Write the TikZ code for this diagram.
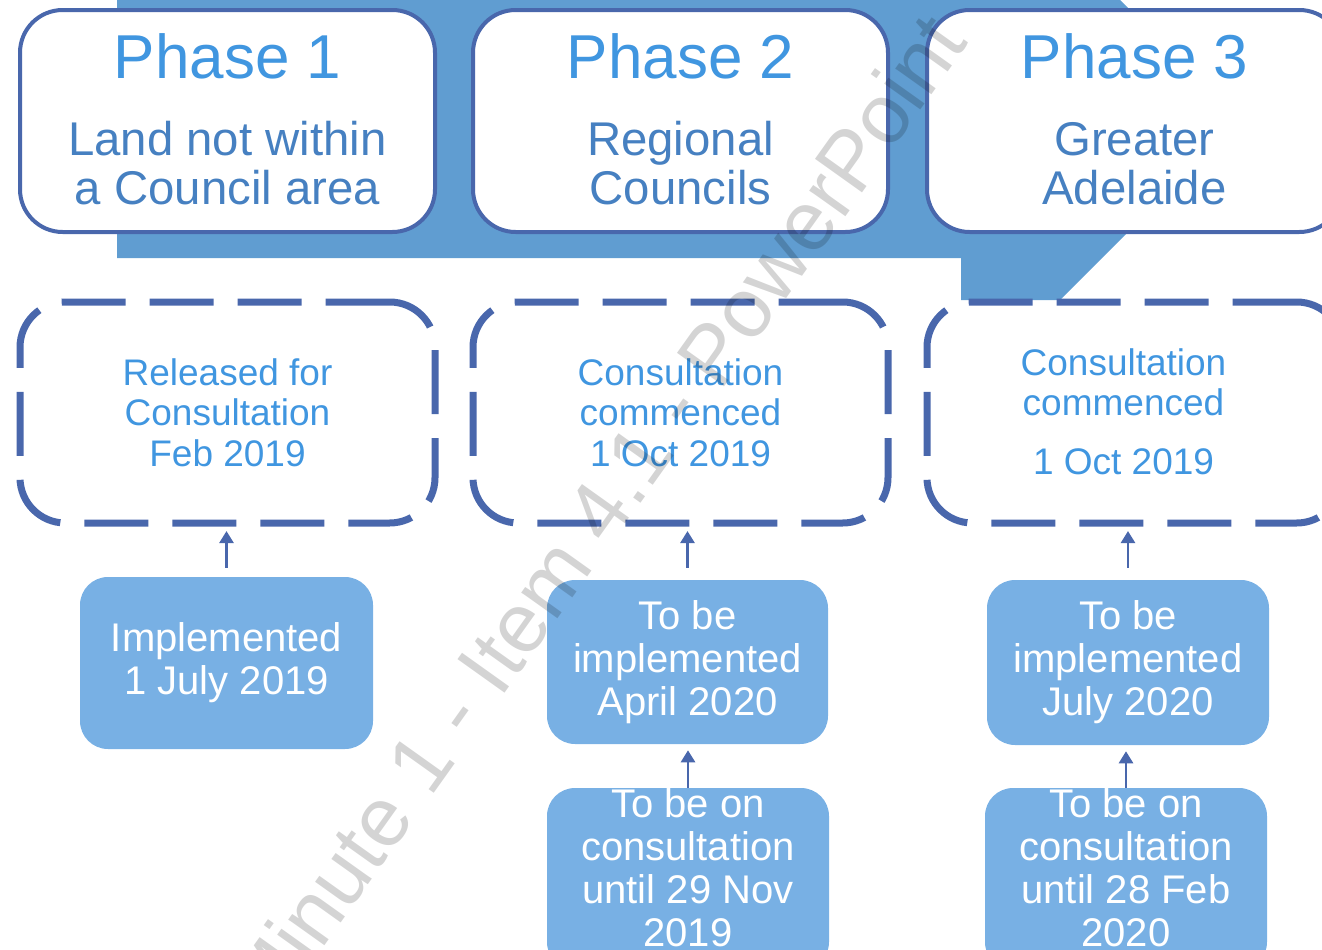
\documentclass[tikz,border=0pt]{standalone}
\usepackage{fontspec}
\setmainfont{Liberation Sans}
\usepackage{xcolor}
\usetikzlibrary{arrows.meta,calc,positioning}

\definecolor{bandblue}{RGB}{96,157,209}
\definecolor{edgeblue}{RGB}{73,103,172}
\definecolor{titleblue}{RGB}{64,150,224}
\definecolor{subblue}{RGB}{70,128,193}
\definecolor{fillblue}{RGB}{120,176,228}

\begin{document}
\begin{tikzpicture}[x=0.75pt,y=0.75pt,yscale=-1,
  phasebox/.style={draw=edgeblue, line width=3pt, fill=white, rounded corners=32pt,
    minimum width=311.25pt, minimum height=166.5pt, inner sep=0pt},
  phasetitle/.style={text=titleblue, font=\fontsize{46.5}{50}\selectfont, inner sep=0pt, anchor=base},
  phasesub/.style={text=subblue, font=\fontsize{35.5}{36.75}\selectfont, align=center, inner sep=0pt},
  statusbox/.style={draw=edgeblue, line width=5.25pt, dash pattern=on 48pt off 18pt,
    rounded corners=34pt, minimum width=311.25pt, minimum height=165.75pt, inner sep=0pt,
    text=titleblue, font=\fontsize{27.75}{30.4}\selectfont, align=center},
  statustext/.style={text=titleblue, font=\fontsize{27.75}{30.4}\selectfont, align=center, inner sep=0pt},
  datebox/.style={fill=fillblue, rounded corners=21pt, inner sep=0pt,
    text=white, font=\fontsize{30}{32.25}\selectfont, align=center},
  boxtext/.style={text=white, font=\fontsize{30}{32.25}\selectfont, align=center, inner sep=0pt},
  conn/.style={draw=edgeblue, line width=2pt, -{Triangle[width=10.5pt,length=9pt]}},
  watermark/.style={text=black, text opacity=0.17, font=\fontsize{63}{63}\selectfont, inner sep=0pt}]
\useasboundingbox (0,0) rectangle (1322,950);
\clip (0,0) rectangle (1322,950);

%Shape: background band
\fill[bandblue] (117,-5) -- (1115,-5) -- (1240,120) -- (1060,300) -- (961,300) -- (961,258) -- (117,258) -- cycle;

% Phase boxes
\node[phasebox] (p1) at (227.5,121) {};
\node[phasebox] (p2) at (680.5,121) {};
\node[phasebox] (p3) at (1134.5,121) {};
\node[phasetitle] (p1title) at ($(p1.center)+(0,-43)$) {Phase 1};
\node[phasetitle] (p2title) at ($(p2.center)+(0,-43)$) {Phase 2};
\node[phasetitle] (p3title) at ($(p3.center)+(0,-43)$) {Phase 3};
\node[phasesub] (p1sub) at ($(p1.center)+(0,42.5)$) {Land not within\\a Council area};
\node[phasesub] (p2sub) at ($(p2.center)+(0,42.5)$) {Regional\\Councils};
\node[phasesub] (p3sub) at ($(p3.center)+(0,42.5)$) {Greater\\Adelaide};

% Status boxes
\node[statusbox] (s1) at (227.5,412.5) {Released for\\Consultation\\Feb 2019};
\node[statusbox] (s2) at (680.5,412.5) {Consultation\\commenced\\1 Oct 2019};
\node[statusbox] (s3) at (1134.5,412.5) {};
\node[statustext] (s3text) at ($(s3.center)+(-11,-1)$) {Consultation\\commenced\\[13.5pt]1 Oct 2019};

% Date boxes
\node[datebox, minimum width=219.75pt, minimum height=129pt] (impl1) at (226.5,663) {Implemented\\1 July 2019};
\node[datebox, minimum width=210.75pt, minimum height=123pt] (impl2) at (687.5,662) {To be\\implemented\\April 2020};
\node[datebox, minimum width=211.5pt, minimum height=123.75pt] (impl3) at (1128,662.5) {To be\\implemented\\July 2020};
\node[datebox, minimum width=211.5pt, minimum height=136.5pt] (cons2) at (688,879) {};
\node[datebox, minimum width=211.5pt, minimum height=136.5pt] (cons3) at (1126,879) {};
\node[boxtext] (cons2text) at ($(cons2.center)+(0,-11)$) {To be on\\consultation\\until 29 Nov\\2019};
\node[boxtext] (cons3text) at ($(cons3.center)+(0,-11)$) {To be on\\consultation\\until 28 Feb\\2020};

% Connectors
\draw[conn, shorten <=6.75pt, shorten >=3.4pt] (impl1.north) -- (impl1.north |- s1.south);
\draw[conn, shorten <=9pt, shorten >=3.4pt] (impl2.north) -- (impl2.north |- s2.south);
\draw[conn, shorten <=9pt, shorten >=3.4pt] (impl3.north) -- (impl3.north |- s3.south);
\draw[conn, shorten >=4.5pt] (cons2.north) -- (cons2.north |- impl2.south);
\draw[conn, shorten >=4.5pt] (cons3.north) -- (cons3.north |- impl3.south);

% Watermark
\node[watermark, rotate=54.5, anchor=base west] (mark) at (270,1023) {Minute 1 - Item 4.1 - PowerPoint};

\end{tikzpicture}
\end{document}
